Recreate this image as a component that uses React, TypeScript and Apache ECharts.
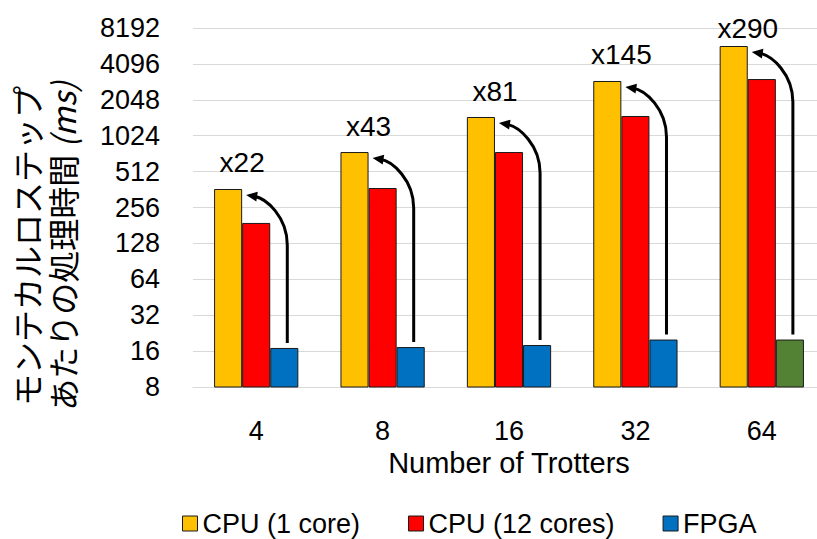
import React, { useEffect, useRef } from 'react';
import * as echarts from 'echarts';

const categories = ['4', '8', '16', '32', '64'];
const seriesNames = ['CPU (1 core)', 'CPU (12 cores)', 'FPGA'];
const cpu1Core = [366, 747, 1469, 2945, 5787];
const cpu12Cores = [190, 373, 747, 1498, 3058];
const fpga = [17, 17.3, 18, 20, 20];
const fpgaHighlighted = [false, false, false, false, true];
const speedupLabels = ['x22', 'x43', 'x81', 'x145', 'x290'];
const yMin = 8;
const yMax = 8192;

const YELLOW = '#FFC000';
const RED = '#FF0000';
const BLUE = '#0070C0';
const GREEN = '#548235';
const BORDER = '#1a1a1a';
const GRID = '#D9D9D9';
const FONT = '"Liberation Sans", Arial, sans-serif';
const CJK = '"Noto Sans CJK JP", "Noto Sans", sans-serif';
const GAP_RATIO = 1 / 3;

export default function App() {
  const ref = useRef<HTMLDivElement>(null);

  useEffect(() => {
    if (!ref.current) return;
    const chart = echarts.init(ref.current, null, { renderer: 'svg' });

    const barStyle = (color: string) => ({ color, borderColor: BORDER, borderWidth: 1 });

    const option: any = {
      animation: false,
      backgroundColor: '#ffffff',
      grid: { left: 193, top: 28, width: 632, height: 359, outerBoundsMode: 'none', containLabel: false },
      legend: {
        data: seriesNames,
        left: 182,
        top: 510,
        padding: 0,
        itemWidth: 15,
        itemHeight: 15,
        itemGap: 48,
        icon: 'rect',
        itemStyle: { borderColor: BORDER, borderWidth: 1 },
        textStyle: { fontSize: 27, fontFamily: FONT, color: '#000' },
      },
      xAxis: {
        type: 'category',
        data: categories,
        axisLine: { show: true, lineStyle: { color: GRID, width: 1 } },
        axisTick: { show: false },
        axisLabel: { fontSize: 27, fontFamily: FONT, color: '#000', margin: 30 },
        name: 'Number of Trotters',
        nameLocation: 'middle',
        nameGap: 61,
        nameTextStyle: { fontSize: 29, fontFamily: FONT, color: '#000' },
      },
      yAxis: {
        type: 'log',
        logBase: 2,
        min: yMin,
        max: yMax,
        interval: 1,
        axisLine: { show: false },
        axisTick: { show: false },
        splitLine: { show: true, lineStyle: { color: GRID, width: 1 } },
        axisLabel: {
          fontSize: 27,
          fontFamily: FONT,
          color: '#000',
          margin: 33,
          formatter: (v: number) => String(Math.round(v)),
        },
      },
      graphic: [
        {
          type: 'text',
          x: 26,
          y: 246,
          rotation: Math.PI / 2,
          style: {
            text: 'モンテカルロステップ',
            fontSize: 32,
            fontFamily: CJK,
            fill: '#000',
            align: 'center',
            verticalAlign: 'middle',
          },
        },
        {
          type: 'text',
          x: 62,
          y: 246,
          rotation: Math.PI / 2,
          style: {
            text: 'あたりの処理時間 {i|(ms)}',
            fontSize: 32,
            fontFamily: CJK,
            fill: '#000',
            align: 'center',
            verticalAlign: 'middle',
            rich: { i: { fontStyle: 'italic', fontSize: 32, fontFamily: CJK, fill: '#000' } },
          },
        },
      ],
      series: [
        {
          name: seriesNames[0],
          type: 'bar',
          data: cpu1Core,
          barGap: '0%',
          barCategoryGap: (GAP_RATIO * 100).toFixed(2) + '%',
          itemStyle: barStyle(YELLOW),
        },
        {
          name: seriesNames[1],
          type: 'bar',
          data: cpu12Cores,
          barGap: '0%',
          barCategoryGap: (GAP_RATIO * 100).toFixed(2) + '%',
          itemStyle: barStyle(RED),
        },
        {
          name: seriesNames[2],
          type: 'bar',
          data: fpga.map((v, i) => (fpgaHighlighted[i] ? { value: v, itemStyle: barStyle(GREEN) } : v)),
          barGap: '0%',
          barCategoryGap: (GAP_RATIO * 100).toFixed(2) + '%',
          itemStyle: barStyle(BLUE),
        },
        {
          name: 'speedup',
          type: 'custom',
          silent: true,
          z: 5,
          clip: false,
          encode: { x: 0, y: [1, 2] },
          data: categories.map((_, i) => [i, fpga[i], cpu1Core[i]]),
          renderItem: (params: any, api: any) => {
            const i = api.value(0);
            const top = api.coord([i, api.value(2)]);
            const low = api.coord([i, api.value(1)]);
            const gridTop = api.coord([i, yMax])[1];
            const band = api.size([1, 0])[0];
            const bw = (band * (1 - GAP_RATIO)) / 3;
            const cx = top[0];
            const sx = cx + bw + 3;
            const sy = low[1] - 5;
            const tx = cx - bw / 2 + 4;
            const ty = top[1] + 6;
            const w = sx - tx;
            const h = 50;
            const c1x = sx;
            const c1y = ty + h * 0.45;
            const c2x = tx + w * 0.5;
            const c2y = ty + 3;
            const dx = tx - c2x;
            const dy = ty - c2y;
            const len = Math.hypot(dx, dy) || 1;
            const ux = dx / len;
            const uy = dy / len;
            const L = 11;
            const W = 10;
            const bx = tx - ux * L;
            const by = ty - uy * L;
            const px = -uy;
            const py = ux;
            const ex = tx - ux * 7;
            const ey = ty - uy * 7;
            const pathData = `M ${sx} ${sy} L ${sx} ${ty + h} C ${c1x} ${c1y} ${c2x} ${c2y} ${ex} ${ey}`;
            const labelY = Math.max(top[1] - 26, gridTop);
            return {
              type: 'group',
              children: [
                {
                  type: 'path',
                  shape: { pathData },
                  style: { stroke: '#000', lineWidth: 3, fill: null },
                },
                {
                  type: 'polygon',
                  shape: {
                    points: [
                      [tx, ty],
                      [bx + (px * W) / 2, by + (py * W) / 2],
                      [bx - (px * W) / 2, by - (py * W) / 2],
                    ],
                  },
                  style: { fill: '#000' },
                },
                {
                  type: 'text',
                  x: cx - bw / 2,
                  y: labelY,
                  style: {
                    text: speedupLabels[params.dataIndex],
                    fontSize: 28,
                    fontFamily: FONT,
                    fill: '#000',
                    align: 'center',
                    verticalAlign: 'middle',
                    textAlign: 'center',
                    textVerticalAlign: 'middle',
                  },
                },
              ],
            };
          },
        },
      ],
    };

    chart.setOption(option);
    return () => chart.dispose();
  }, []);

  return (
    <div
      ref={ref}
      style={{ position: 'fixed', left: 0, top: 0, width: 817, height: 539, background: '#fff' }}
    />
  );
}
